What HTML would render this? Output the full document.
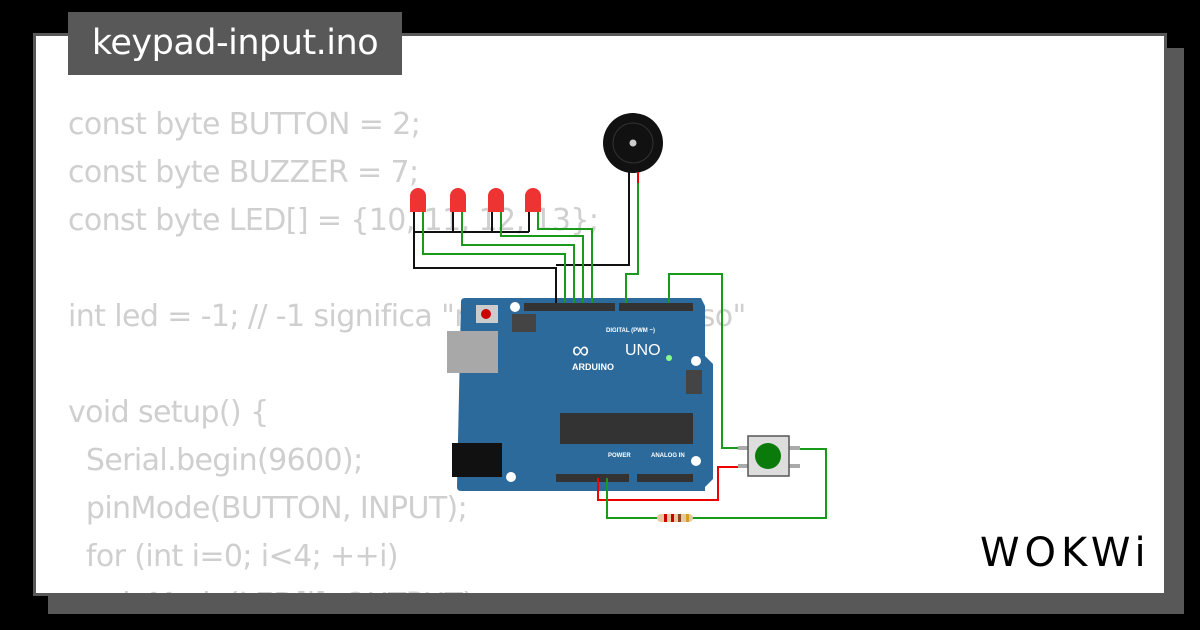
<!DOCTYPE html>
<html><head><style>
html,body{margin:0;padding:0;background:#000;width:1200px;height:630px;overflow:hidden}
body{position:relative;font-family:"Liberation Sans","DejaVu Sans",sans-serif}
.sh{position:absolute;left:48px;top:48px;width:1136px;height:566px;background:#585858}
.pn{position:absolute;left:33px;top:33px;width:1128px;height:557px;background:#fff;border:3px solid #585858;overflow:hidden}
.code{position:absolute;left:32px;top:65px;color:#cfcfcf;font-size:30px;line-height:48px;white-space:pre;font-family:"DejaVu Sans","Liberation Sans",sans-serif;letter-spacing:-0.6px}
.title{position:absolute;left:68px;top:12px;width:334px;height:63px;background:#585858;color:#fff;font-size:35px;line-height:63px;text-align:center;font-family:"DejaVu Sans","Liberation Sans",sans-serif;letter-spacing:-0.5px}
svg{position:absolute;left:0;top:0}
</style></head><body>
<div class="sh"></div>
<div class="pn"><div class="code">const byte BUTTON = 2;
const byte BUZZER = 7;
const byte LED[] = {10, 11, 12, 13};

int led = -1; // -1 significa "nessun LED acceso"

void setup() {
  Serial.begin(9600);
  pinMode(BUTTON, INPUT);
  for (int i=0; i&lt;4; ++i)
    pinMode(LED[i], OUTPUT);</div></div>
<div class="title">keypad-input.ino</div>
<svg width="1200" height="630" viewBox="0 0 1200 630">
<path d="M461,302 q0,-4 4,-4 h236 l4,8 v50 l8,8 v115 l-8,8 v4 h-244 q-4,0 -4,-4z" fill="#2b6a9a"/>
<rect x="447" y="331" width="51" height="42" fill="#a8a8a8"/>
<rect x="452" y="443" width="50" height="34" fill="#111"/>
<rect x="476" y="305" width="22" height="18" fill="#ccc"/><circle cx="486" cy="314" r="5" fill="#c00"/>
<circle cx="515" cy="307" r="5" fill="#fff"/><circle cx="696" cy="361" r="5" fill="#fff"/><circle cx="696" cy="461" r="5" fill="#fff"/><circle cx="511" cy="477" r="5" fill="#fff"/>
<rect x="524" y="303" width="91" height="8" fill="#333"/><rect x="619" y="303" width="74" height="8" fill="#333"/>
<rect x="556" y="474" width="73" height="8" fill="#333"/><rect x="637" y="474" width="56" height="8" fill="#333"/>
<rect x="560" y="413" width="133" height="31" fill="#333"/>
<rect x="512" y="314" width="24" height="18" fill="#444"/>
<rect x="686" y="370" width="16" height="24" fill="#444"/>
<text x="572" y="358" fill="#fff" font-size="24">∞</text>
<text x="572" y="370" fill="#fff" font-size="9" font-weight="bold">ARDUINO</text>
<text x="625" y="355" fill="#fff" font-size="16">UNO</text>
<text x="606" y="332" fill="#fff" font-size="6" font-weight="bold">DIGITAL (PWM ~)</text>
<text x="651" y="457" fill="#fff" font-size="6" font-weight="bold">ANALOG IN</text>
<text x="608" y="457" fill="#fff" font-size="6" font-weight="bold">POWER</text>
<circle cx="669" cy="358" r="3" fill="#8f8"/>
<circle cx="633" cy="143" r="30" fill="#111"/><circle cx="633" cy="143" r="20" fill="none" stroke="#333"/><circle cx="633" cy="143" r="3.5" fill="#ccc"/>
<g fill="none" stroke-width="2">
<path d="M629,172 V265 H556" stroke="#111"/>
<path d="M638,172 V183" stroke="#e00"/>
<path d="M638,183 V274 H626 V303" stroke="#1a9a1a"/>
<path d="M414,210 V268 H556 V303" stroke="#111"/>
<path d="M414,232 H529 M453,210 V232 M492,210 V232 M529,210 V232" stroke="#111"/>
<path d="M423,210 V254 H565 V303" stroke="#1a9a1a"/>
<path d="M462,210 V245 H574 V303" stroke="#1a9a1a"/>
<path d="M501,210 V236 H583 V303" stroke="#1a9a1a"/>
<path d="M538,210 V229 H592 V303" stroke="#1a9a1a"/>
<path d="M669,303 V274 H722 V448 H748" stroke="#1a9a1a"/>
<path d="M598,478 V500 H718 V467 H748" stroke="#e00"/>
<path d="M607,478 V518 H826 V449 H796" stroke="#1a9a1a"/>
</g>
<g fill="#e33">
<path d="M410,212 v-16 a8,8 0 0 1 16,0 v16z"/>
<path d="M450,212 v-16 a8,8 0 0 1 16,0 v16z"/>
<path d="M488,212 v-16 a8,8 0 0 1 16,0 v16z"/>
<path d="M525,212 v-16 a8,8 0 0 1 16,0 v16z"/>
</g>
<rect x="657" y="514" width="36" height="8" rx="4" fill="#e8c8a0"/>
<rect x="664" y="514" width="3" height="8" fill="#c00"/><rect x="671" y="514" width="3" height="8" fill="#c00"/><rect x="678" y="514" width="3" height="8" fill="#8a4a20"/><rect x="686" y="514" width="3" height="8" fill="#d4a020"/>
<rect x="738" y="446" width="62" height="4" fill="#aaa"/><rect x="738" y="464" width="62" height="4" fill="#aaa"/>
<rect x="748" y="436" width="41" height="40" fill="#ddd" stroke="#555" stroke-width="1.5"/>
<circle cx="768" cy="456" r="13" fill="#0a7a0a"/>
<text x="980" y="566" font-size="40" font-family="DejaVu Sans" fill="#000" letter-spacing="5">WOKWi</text>
</svg>
</body></html>
